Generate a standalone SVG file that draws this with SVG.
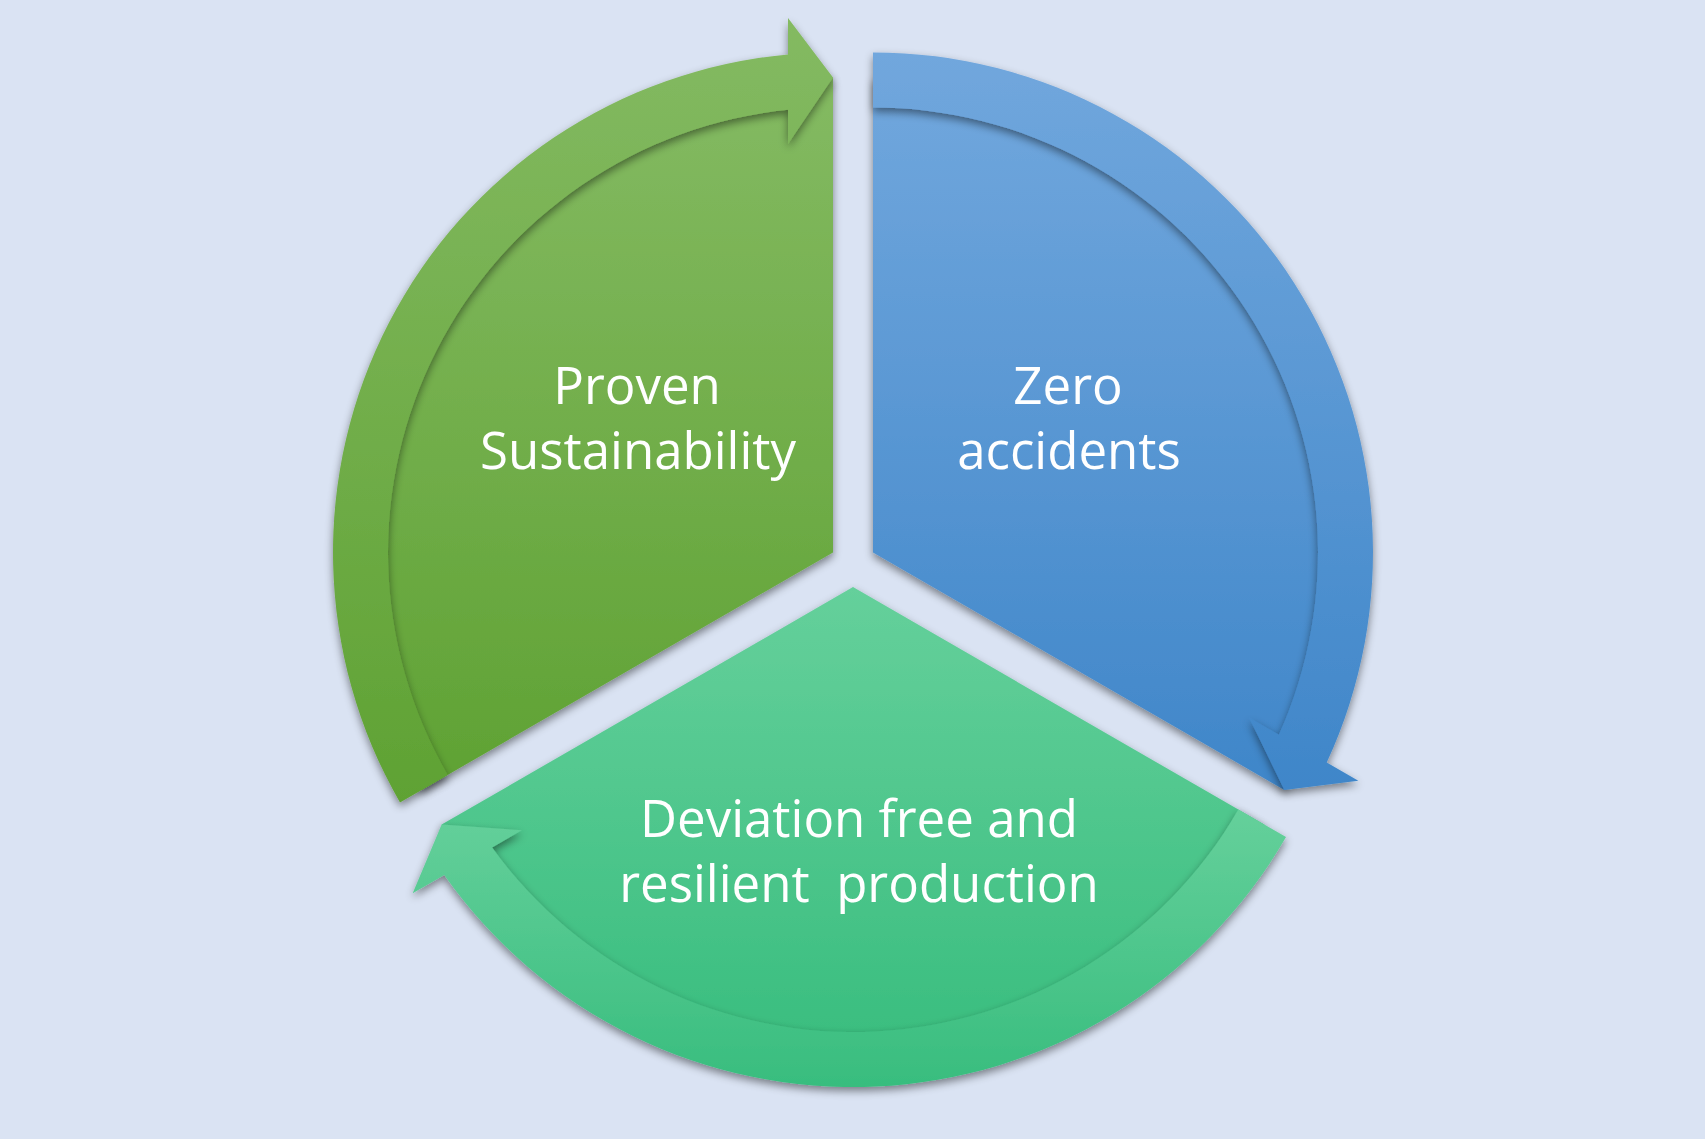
<svg xmlns="http://www.w3.org/2000/svg" width="1705" height="1139" viewBox="0 0 1705 1139">
  <defs>
    <linearGradient id="gGreen" x1="0" y1="0" x2="0" y2="1">
      <stop offset="0" stop-color="#84ba62"/>
      <stop offset="1" stop-color="#5fa233"/>
    </linearGradient>
    <linearGradient id="gBlue" x1="0" y1="0" x2="0" y2="1">
      <stop offset="0" stop-color="#71a7dd"/>
      <stop offset="1" stop-color="#3f86c9"/>
    </linearGradient>
    <linearGradient id="gTeal" x1="0" y1="0" x2="0" y2="1">
      <stop offset="0" stop-color="#65d09b"/>
      <stop offset="1" stop-color="#38bd7e"/>
    </linearGradient>
    <filter id="shadow" x="-10%" y="-10%" width="120%" height="120%">
      <feDropShadow dx="0" dy="4" stdDeviation="4" flood-color="#000" flood-opacity="0.45"/>
    </filter>
  </defs>
  <style>
    .shape { filter: url(#shadow); }
    .label { font-family: "Open Sans", "Liberation Sans", sans-serif; font-size: 51px; fill: #ffffff; text-anchor: middle; white-space: pre; }
  </style>
  <rect x="0" y="0" width="1705" height="1139" fill="#dae3f3"/>

  <g id="node-proven-sustainability">
    <path class="shape" fill="url(#gGreen)" d="M 833 552.45 L 421.64 789.95 A 475 475 0 0 1 833 77.45 Z"/>
    <text class="label" x="637" y="404">Proven</text>
    <text class="label" x="638" y="469">Sustainability</text>
  </g>

  <g id="node-zero-accidents">
    <path class="shape" fill="url(#gBlue)" d="M 873 552.45 L 873 77.45 A 475 475 0 0 1 1284.36 789.95 Z"/>
    <text class="label" x="1068" y="404">Zero</text>
    <text class="label" x="1069" y="469">accidents</text>
  </g>

  <g id="node-deviation-free">
    <path class="shape" fill="url(#gTeal)" d="M 853 587.1 L 1264.36 824.6 A 475 475 0 0 1 441.64 824.6 Z"/>
    <text class="label" x="859" y="837">Deviation free and</text>
    <text class="label" x="859" y="902" xml:space="preserve">resilient  production</text>
  </g>

  <g id="connectors">
    <path class="shape" fill="url(#gGreen)" d="M 399.99 802.45 A 500 500 0 0 1 788 54.48 L 788 18 L 833 77.45 L 788 144 L 788 109.73 A 445 445 0 0 0 447.62 774.95 Z"/>
    <path class="shape" fill="url(#gBlue)" d="M 873 52.45 A 500 500 0 0 1 1326.74 762.47 L 1358.33 780.71 L 1284.36 789.95 L 1249.22 717.71 L 1278.9 734.84 A 445 445 0 0 0 873 107.45 Z"/>
    <path class="shape" fill="url(#gTeal)" d="M 1286.01 837.1 A 500 500 0 0 1 444.26 875.06 L 412.67 893.3 L 441.64 824.6 L 521.78 830.3 L 492.1 847.43 A 445 445 0 0 0 1238.38 809.6 Z"/>
  </g>
</svg>
